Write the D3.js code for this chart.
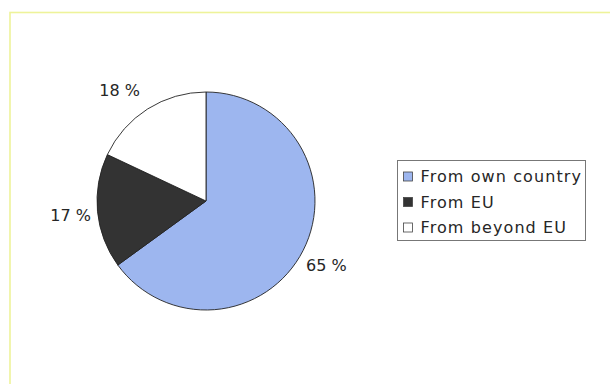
<!DOCTYPE html>
<html>
<head>
<meta charset="utf-8">
<script src="https://cdn.jsdelivr.net/npm/d3@7"></script>
<style>
  html, body { margin: 0; padding: 0; background: #fff; }
  svg { display: block; }
  text { font-family: "DejaVu Sans", sans-serif; fill: #262626; }
</style>
</head>
<body>
<svg id="chart" width="610" height="384"></svg>
<script>
// Origin of the items (share, %)
const categories = ["From own country", "From EU", "From beyond EU"];
const values = [65, 17, 18];
const labels = ["65 %", "17 %", "18 %"];
const colors = ["#9db6ef", "#333333", "#ffffff"];

const svg = d3.select("#chart");

// frame around the chart area
svg.append("rect")
  .attr("x", 10).attr("y", 12.5)
  .attr("width", 620).attr("height", 400)
  .attr("fill", "#fff")
  .attr("stroke", "#eef39a")
  .attr("stroke-width", 1.6);

const cx = 206, cy = 201, R = 109;

const pie = d3.pie().sort(null).value(d => d)(values);
const arc = d3.arc().innerRadius(0).outerRadius(R);

const g = svg.append("g").attr("transform", `translate(${cx},${cy})`);

g.selectAll("path.slice")
  .data(pie)
  .join("path")
  .attr("class", "slice")
  .attr("d", arc)
  .attr("fill", (d, i) => colors[i])
  .attr("stroke", "#222")
  .attr("stroke-width", 0.9);

// labels sit outside the rim along each slice's mid angle, nudged clear of the edge
const nudge = [[0, 3], [-1, 2], [-14, 3]];
const labelR = R + 26;
g.selectAll("text.lbl")
  .data(pie)
  .join("text")
  .attr("class", "lbl")
  .attr("x", (d, i) => Math.sin((d.startAngle + d.endAngle) / 2) * labelR + nudge[i][0])
  .attr("y", (d, i) => -Math.cos((d.startAngle + d.endAngle) / 2) * labelR + nudge[i][1])
  .attr("text-anchor", "middle")
  .attr("dominant-baseline", "central")
  .attr("font-size", 16)
  .text((d, i) => labels[i]);

// legend
const lx = 397.5, ly = 160.5, lw = 188, lh = 80, rowH = 25.5;
const leg = svg.append("g");
leg.append("rect")
  .attr("x", lx).attr("y", ly)
  .attr("width", lw).attr("height", lh)
  .attr("fill", "#fff")
  .attr("stroke", "#777")
  .attr("stroke-width", 1);

const rows = leg.selectAll("g.row")
  .data(categories)
  .join("g")
  .attr("class", "row")
  .attr("transform", (d, i) => `translate(${lx + 6},${ly + 16 + i * rowH})`);

rows.append("rect")
  .attr("x", 0).attr("y", -4.5)
  .attr("width", 9).attr("height", 9)
  .attr("fill", (d, i) => colors[i])
  .attr("stroke", "#444")
  .attr("stroke-width", 0.8);

rows.append("text")
  .attr("x", 17)
  .attr("y", 0)
  .attr("dominant-baseline", "central")
  .attr("font-size", 16)
  .attr("letter-spacing", 1.1)
  .text(d => d);
</script>
</body>
</html>
